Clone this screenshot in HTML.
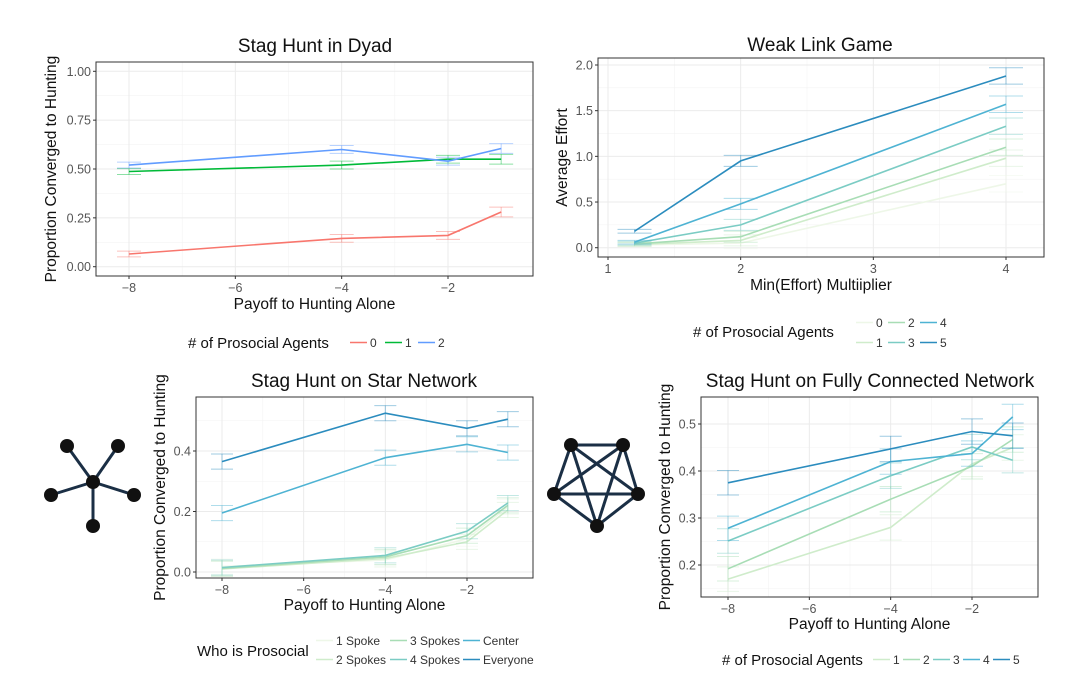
<!DOCTYPE html>
<html><head><meta charset="utf-8">
<style>
html,body{margin:0;padding:0;background:#fff;}
svg{display:block;font-family:"Liberation Sans",sans-serif;}
</style></head>
<body>
<svg id="fig" width="1080" height="685" viewBox="0 0 1080 685" xmlns="http://www.w3.org/2000/svg">
<g id="icons">
 <g stroke="#1b2f45" stroke-width="3">
  <line x1="93" y1="482" x2="67" y2="446"/><line x1="93" y1="482" x2="118" y2="446"/>
  <line x1="93" y1="482" x2="51" y2="495"/><line x1="93" y1="482" x2="134" y2="495"/>
  <line x1="93" y1="482" x2="93" y2="526"/>
 </g>
 <g fill="#111">
  <circle cx="93" cy="482" r="7"/><circle cx="67" cy="446" r="7"/><circle cx="118" cy="446" r="7"/>
  <circle cx="51" cy="495" r="7"/><circle cx="134" cy="495" r="7"/><circle cx="93" cy="526" r="7"/>
 </g>
 <g stroke="#1b2f45" stroke-width="3">
  <line x1="571" y1="445" x2="623" y2="445"/><line x1="571" y1="445" x2="554" y2="494"/>
  <line x1="571" y1="445" x2="638" y2="494"/><line x1="571" y1="445" x2="597" y2="526"/>
  <line x1="623" y1="445" x2="554" y2="494"/><line x1="623" y1="445" x2="638" y2="494"/>
  <line x1="623" y1="445" x2="597" y2="526"/><line x1="554" y1="494" x2="638" y2="494"/>
  <line x1="554" y1="494" x2="597" y2="526"/><line x1="638" y1="494" x2="597" y2="526"/>
 </g>
 <g fill="#111">
  <circle cx="571" cy="445" r="7"/><circle cx="623" cy="445" r="7"/><circle cx="554" cy="494" r="7"/>
  <circle cx="638" cy="494" r="7"/><circle cx="597" cy="526" r="7"/>
 </g>
</g>
</svg>
<script>
// ---- Panel 1: Stag Hunt in Dyad ----
const dyadX = [-8, -4, -2, -1];
const dyadS0 = [0.065, 0.145, 0.16, 0.28];
const dyadS1 = [0.487, 0.52, 0.55, 0.55];
const dyadS2 = [0.52, 0.60, 0.54, 0.605];
const dyadErr = [0.015, 0.02, 0.02, 0.025];
const dyadYTicks = [0, 0.25, 0.5, 0.75, 1.0];
const dyadYLabels = ["0.00", "0.25", "0.50", "0.75", "1.00"];
const dyadXTicks = [-8, -6, -4, -2];
const dyadXLabels = ["\u22128", "\u22126", "\u22124", "\u22122"];
const dyadNames = ["0", "1", "2"];
// ---- Panel 2: Weak Link Game ----
const weakX = [1.2, 2, 4];
const weak0 = [0.03, 0.05, 0.70];
const weak1 = [0.035, 0.08, 0.98];
const weak2 = [0.04, 0.12, 1.10];
const weak3 = [0.05, 0.25, 1.33];
const weak4 = [0.06, 0.48, 1.57];
const weak5 = [0.18, 0.95, 1.88];
const weakErr = [0.02, 0.06, 0.09];
const weakYTicks = [0, 0.5, 1.0, 1.5, 2.0];
const weakYLabels = ["0.0", "0.5", "1.0", "1.5", "2.0"];
const weakXTicks = [1, 2, 3, 4];
const weakXLabels = ["1", "2", "3", "4"];
const weakNames = ["0", "1", "2", "3", "4", "5"];
// ---- Panel 3: Star Network ----
const starX = [-8, -4, -2, -1];
const star1 = [0.018, 0.04, 0.11, 0.215];
const star2 = [0.01, 0.045, 0.10, 0.205];
const star3 = [0.012, 0.05, 0.12, 0.22];
const star4 = [0.015, 0.055, 0.135, 0.228];
const starC = [0.195, 0.378, 0.422, 0.395];
const starE = [0.365, 0.525, 0.475, 0.505];
const starErr = [0.025, 0.025, 0.025, 0.025];
const starYTicks = [0, 0.2, 0.4];
const starYLabels = ["0.0", "0.2", "0.4"];
const starXTicks = [-8, -6, -4, -2];
const starXLabels = ["\u22128", "\u22126", "\u22124", "\u22122"];
const starNames = ["1 Spoke", "2 Spokes", "3 Spokes", "4 Spokes", "Center", "Everyone"];
// ---- Panel 4: Fully Connected ----
const fullX = [-8, -4, -2, -1];
const full1 = [0.17, 0.28, 0.415, 0.45];
const full2 = [0.192, 0.34, 0.41, 0.467];
const full3 = [0.251, 0.39, 0.451, 0.423];
const full4 = [0.278, 0.42, 0.437, 0.515];
const full5 = [0.375, 0.447, 0.484, 0.475];
const fullErr = [0.026, 0.027, 0.027, 0.027];
const fullYTicks = [0.2, 0.3, 0.4, 0.5];
const fullYLabels = ["0.2", "0.3", "0.4", "0.5"];
const fullXTicks = [-8, -6, -4, -2];
const fullXLabels = ["\u22128", "\u22126", "\u22124", "\u22122"];
const fullNames = ["1", "2", "3", "4", "5"];

const gnbu = ["#eef7e8", "#cfeccb", "#a8ddb5", "#7bccc4", "#4eb3d3", "#2b8cbe"];
const NS = "http://www.w3.org/2000/svg";
const svg = document.getElementById("fig");
function mk(tag, attrs, parent) {
  const e = document.createElementNS(NS, tag);
  for (const k in attrs) e.setAttribute(k, attrs[k]);
  (parent || svg).appendChild(e);
  return e;
}
function txt(s, attrs, parent) { const t = mk("text", attrs, parent); t.textContent = s; return t; }

function panel(c) {
  const g = mk("g", {});
  
  
  const sx = v => c.x0 + (v - c.xa) * (c.x1 - c.x0) / (c.xb - c.xa);
  const sy = v => c.y0 + (v - c.ya) * (c.y1 - c.y0) / (c.yb - c.ya);
  for (let i = 0; i < c.yt.length - 1; i++) {
    const m = (c.yt[i] + c.yt[i + 1]) / 2;
    mk("line", {x1: c.L, x2: c.R, y1: sy(m), y2: sy(m), stroke: "#f3f3f3", "stroke-width": 0.6}, g);
  }
  if (c.yMinorExtra) c.yMinorExtra.forEach(m => mk("line", {x1: c.L, x2: c.R, y1: sy(m), y2: sy(m), stroke: "#f3f3f3", "stroke-width": 0.6}, g));
  for (let i = 0; i < c.xt.length - 1; i++) {
    const m = (c.xt[i] + c.xt[i + 1]) / 2;
    mk("line", {x1: sx(m), x2: sx(m), y1: c.T, y2: c.B, stroke: "#f3f3f3", "stroke-width": 0.6}, g);
  }
  c.yt.forEach((v, i) => {
    mk("line", {x1: c.L, x2: c.R, y1: sy(v), y2: sy(v), stroke: "#ebebeb", "stroke-width": 1}, g);
    mk("line", {x1: c.L - 3, x2: c.L, y1: sy(v), y2: sy(v), stroke: "#333", "stroke-width": 1}, g);
    const t = txt(c.yl[i], {x: c.L - 5, y: sy(v) + 4.5, "text-anchor": "end", "font-size": 12.5, fill: "#555"}, g);
    
    
  });
  c.xt.forEach((v, i) => {
    mk("line", {x1: sx(v), x2: sx(v), y1: c.T, y2: c.B, stroke: "#ebebeb", "stroke-width": 1}, g);
    mk("line", {x1: sx(v), x2: sx(v), y1: c.B, y2: c.B + 3, stroke: "#333", "stroke-width": 1}, g);
    const t = txt(c.xl[i], {x: sx(v), y: c.B + 16, "text-anchor": "middle", "font-size": 12.5, fill: "#555"}, g);
    
    
  });
  c.series.forEach((s, k) => {
    const col = c.colors[k];
    s.forEach((v, i) => {
      const e = c.err[i], x = sx(c.xs[i]);
      const eb = mk("g", {stroke: col, "stroke-opacity": 0.45, "stroke-width": 1}, g);
      
      
      mk("line", {x1: x - c.cap, x2: x + c.cap, y1: sy(v + e), y2: sy(v + e)}, eb);
      mk("line", {x1: x - c.cap, x2: x + c.cap, y1: sy(v - e), y2: sy(v - e)}, eb);
      mk("line", {x1: x, x2: x, y1: sy(v + e), y2: sy(v - e)}, eb);
    });
    const pts = s.map((v, i) => sx(c.xs[i]).toFixed(1) + "," + sy(v).toFixed(1)).join(" ");
    const pl = mk("polyline", {points: pts, fill: "none", stroke: col, "stroke-width": 1.6}, g);
    
    
  });
  const box = mk("rect", {x: c.L, y: c.T, width: c.R - c.L, height: c.B - c.T, fill: "none", stroke: "#333", "stroke-width": 1}, g);
  
  
  const ti = txt(c.title, {x: c.tx, y: c.ty, "text-anchor": "middle", "font-size": 19, fill: "#111"}, g);
  
  
  const xl = txt(c.xlab, {x: (c.L + c.R) / 2, y: c.xly, "text-anchor": "middle", "font-size": 15.5, fill: "#111"}, g);
  
  
  const yl = txt(c.ylab, {x: 0, y: 0, "text-anchor": "middle", "font-size": 15.5, fill: "#111", transform: "translate(" + c.ylx + "," + (c.T + c.B) / 2 + ") rotate(-90)"}, g);
  
  
  const lg = mk("g", {}, g);
  
  
  txt(c.legTitle, {x: c.legX, y: c.legTY, "font-size": 15, fill: "#111"}, lg);
  c.legPos.forEach((p, k) => {
    const e = mk("g", {}, lg);
    
    
    mk("line", {x1: p[0], x2: p[0] + 17, y1: p[1] - 4.5, y2: p[1] - 4.5, stroke: c.colors[k], "stroke-width": 1.6}, e);
    txt(c.names[k], {x: p[0] + 20, y: p[1], "font-size": 12, fill: "#333"}, e);
  });
}

panel({id: "stag-hunt-dyad-chart", L: 96, R: 533, T: 62, B: 276,
  xa: -8, xb: -2, x0: 129, x1: 448, ya: 0, yb: 1, y0: 266.7, y1: 71.3,
  yt: dyadYTicks, yl: dyadYLabels, xt: dyadXTicks, xl: dyadXLabels,
  xs: dyadX, series: [dyadS0, dyadS1, dyadS2], err: dyadErr, cap: 12,
  colors: ["#f8766d", "#00ba38", "#619cff"], names: dyadNames,
  title: "Stag Hunt in Dyad", tx: 315, ty: 52, xlab: "Payoff to Hunting Alone", xly: 309,
  ylab: "Proportion Converged to Hunting", ylx: 56,
  legTitle: "# of Prosocial Agents", legX: 188, legTY: 348,
  legPos: [[350, 347], [385, 347], [418, 347]]});

panel({id: "weak-link-game-chart", L: 598, R: 1044, T: 58, B: 257,
  xa: 1, xb: 4, x0: 608, x1: 1006, ya: 0, yb: 2, y0: 247.7, y1: 65,
  yt: weakYTicks, yl: weakYLabels, xt: weakXTicks, xl: weakXLabels,
  xs: weakX, series: [weak0, weak1, weak2, weak3, weak4, weak5], err: weakErr, cap: 17,
  colors: gnbu, names: weakNames,
  title: "Weak Link Game", tx: 820, ty: 51, xlab: "Min(Effort) Multiiplier", xly: 290,
  ylab: "Average Effort", ylx: 567,
  legTitle: "# of Prosocial Agents", legX: 693, legTY: 337,
  legPos: [[856, 327], [856, 347], [888, 327], [888, 347], [920, 327], [920, 347]]});

panel({id: "stag-hunt-star-chart", L: 196, R: 533, T: 397, B: 578,
  xa: -8, xb: -2, x0: 222, x1: 467, ya: 0, yb: 0.4, y0: 572, y1: 451,
  yt: starYTicks, yl: starYLabels, xt: starXTicks, xl: starXLabels, yMinorExtra: [0.5],
  xs: starX, series: [star1, star2, star3, star4, starC, starE], err: starErr, cap: 11,
  colors: gnbu, names: starNames,
  title: "Stag Hunt on Star Network", tx: 364, ty: 387, xlab: "Payoff to Hunting Alone", xly: 610,
  ylab: "Proportion Converged to Hunting", ylx: 165,
  legTitle: "Who is Prosocial", legX: 197, legTY: 656,
  legPos: [[316, 645], [316, 664], [390, 645], [390, 664], [463, 645], [463, 664]]});

panel({id: "stag-hunt-full-chart", L: 701, R: 1038, T: 397, B: 597,
  xa: -8, xb: -2, x0: 728, x1: 972, ya: 0.2, yb: 0.5, y0: 565, y1: 424,
  yt: fullYTicks, yl: fullYLabels, xt: fullXTicks, xl: fullXLabels, yMinorExtra: [0.15],
  xs: fullX, series: [full1, full2, full3, full4, full5], err: fullErr, cap: 11,
  colors: gnbu.slice(1), names: fullNames,
  title: "Stag Hunt on Fully Connected Network", tx: 870, ty: 387, xlab: "Payoff to Hunting Alone", xly: 629,
  ylab: "Proportion Converged to Hunting", ylx: 670,
  legTitle: "# of Prosocial Agents", legX: 722, legTY: 665,
  legPos: [[873, 664], [903, 664], [933, 664], [963, 664], [993, 664]]});
</script>
</body></html>
